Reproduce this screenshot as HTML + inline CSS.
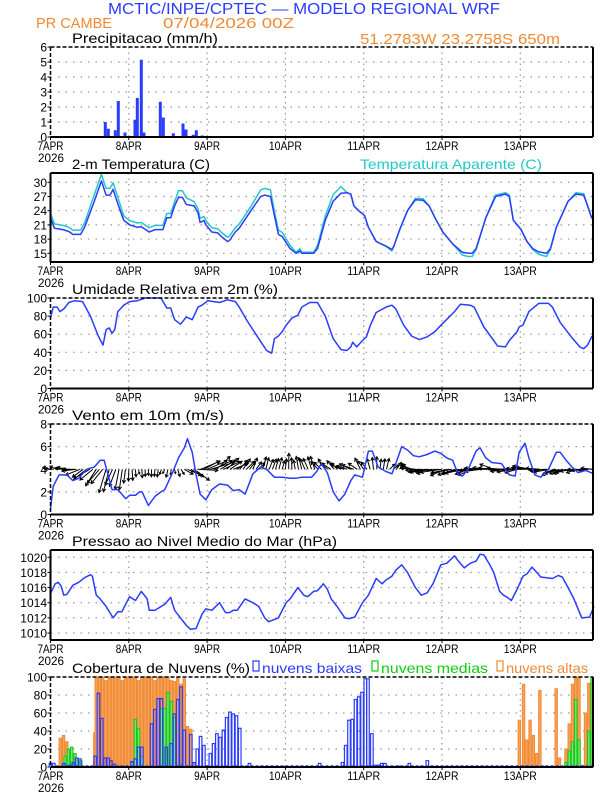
<!DOCTYPE html>
<html><head><meta charset="utf-8"><style>
html,body{margin:0;padding:0;background:#fff;}
svg{display:block;font-family:"Liberation Sans",sans-serif;}
</style></head><body>
<svg id="s" width="612" height="792" xmlns="http://www.w3.org/2000/svg">
<text x="108" y="14" font-size="16" fill="#2a3cff" textLength="392" lengthAdjust="spacingAndGlyphs">MCTIC/INPE/CPTEC — MODELO REGIONAL WRF</text>
<text x="36" y="28" font-size="15" fill="#f08a33" textLength="76" lengthAdjust="spacingAndGlyphs">PR CAMBE</text>
<text x="163" y="28" font-size="15" fill="#f08a33" textLength="131" lengthAdjust="spacingAndGlyphs">07/04/2026 00Z</text>
<text x="360" y="44" font-size="15" fill="#f08a33" textLength="200" lengthAdjust="spacingAndGlyphs">51.2783W 23.2758S 650m</text>
</svg>
<script>
var S=document.getElementById('s'),NS='http://www.w3.org/2000/svg';
function el(t,a,txt){var e=document.createElementNS(NS,t);for(var k in a)e.setAttribute(k,a[k]);if(txt!=null)e.textContent=txt;S.appendChild(e);return e;}
var X0=50.5,X1=593,PH=3.2625;
function X(h){return X0+h*PH;}
var BLUE='#2a3cff';
function panel(top,bot,vmin,vmax,ticks,title,tx,tw,dashedTop){
  var Y=function(v){return bot-(v-vmin)/(vmax-vmin)*(bot-top);};
  for(var d=1;d<7;d++){var x=X(d*24);el('line',{x1:x,x2:x,y1:top,y2:bot,stroke:'#999','stroke-dasharray':'1.5,4','stroke-width':1.2});}
  ticks.forEach(function(v){var y=Y(v);if(y>top+1&&y<bot-1)el('line',{x1:X0,x2:X1,y1:y,y2:y,stroke:'#999','stroke-dasharray':'1.5,6','stroke-width':1.2});
    el('text',{x:47,y:y+4.5,'font-size':12,'text-anchor':'end',fill:'#000'},String(v));
    el('line',{x1:X0-3,x2:X0,y1:y,y2:y,stroke:'#000'});});
  el('text',{x:tx,y:top-4,'font-size':14,fill:'#000',textLength:tw,lengthAdjust:'spacingAndGlyphs'},title);
  var days=['7APR','8APR','9APR','10APR','11APR','12APR','13APR'];
  days.forEach(function(l,i){el('text',{x:X(i*24),y:bot+13,'font-size':12,'text-anchor':'middle',fill:'#000',textLength:l.length==4?26:33,lengthAdjust:'spacingAndGlyphs'},l);
    el('line',{x1:X(i*24),x2:X(i*24),y1:bot,y2:bot+3,stroke:'#000'});});
  el('text',{x:38,y:bot+25,'font-size':12,fill:'#000',textLength:26,lengthAdjust:'spacingAndGlyphs'},'2026');
  return {Y:Y,frame:function(){
    el('line',{x1:X0,x2:X1,y1:bot,y2:bot,stroke:'#000','stroke-width':2});
    el('line',{x1:X1,x2:X1,y1:top,y2:bot,stroke:'#000','stroke-width':2});
    if(dashedTop){el('line',{x1:X0,x2:X1,y1:top,y2:top,stroke:'#000','stroke-width':1.5,'stroke-dasharray':'4,2'});
      el('line',{x1:X0,x2:X0,y1:top,y2:bot,stroke:'#000','stroke-width':1.5,'stroke-dasharray':'4,2'});}
    else{el('line',{x1:X0,x2:X1,y1:top,y2:top,stroke:'#000','stroke-width':2});el('line',{x1:X0,x2:X0,y1:top,y2:bot,stroke:'#000','stroke-width':2});}
  }};
}
function Z(Xz){return (Xz-128)*0.12;}
function line(p,pts,col,w){var d='';pts.forEach(function(q,i){d+=(i?'L':'M')+X(Z(q[0])).toFixed(1)+' '+p.Y(q[1]).toFixed(1);});el('path',{d:d,fill:'none',stroke:col,'stroke-width':w||1.5,'stroke-linejoin':'round'});}
// P1 precip
var p1=panel(47,137,0,6,[0,1,2,3,4,5,6],'Precipitacao (mm/h)',72,146,true);
[[105.3,1],[108.3,.55],[115.3,.45],[118.3,2.4],[125,.3],[135,1.15],[137.3,2.6],[141.3,5.15],[144,.3],[160.3,2.35],[163.3,1.3],[170.3,.05],[173.3,.25],[183,.9],[186,.5],[193.3,.15],[196.3,.45],[202.3,.1]].forEach(function(b){var y=p1.Y(b[1]);el('rect',{x:b[0]-1.5,y:y,width:3,height:137-y,fill:BLUE});});
p1.frame();
// P2 temperature
var p2=panel(173,262,13.16,31.96,[15,18,21,24,27,30],'2-m Temperatura (C)',72,138,false);
el('text',{x:360,y:169,'font-size':14,fill:'#22c8c8',textLength:182,lengthAdjust:'spacingAndGlyphs'},'Temperatura Aparente (C)');
var T=[[128,22.5],[138,20.3],[160,20],[175,19.6],[185,19],[205,19],[215,20.5],[240,26],[258,30.3],[270,27.3],[280,27.3],[288,28.5],[300,25.5],[315,22],[330,21],[350,20.5],[360,20.6],[380,19.5],[395,20],[415,20],[425,22.5],[435,22.5],[445,25],[455,26.8],[465,26.8],[475,25.3],[495,25],[505,23.5],[510,21.5],[520,21.9],[525,21],[540,19.5],[555,19.3],[565,18.5],[580,17.5],[585,17.7],[600,19.5],[610,20.3],[640,24],[665,27],[675,27.3],[690,27],[700,23],[710,19],[720,18.5],[740,16],[755,15],[765,15.5],[770,15],[800,15],[810,16],[830,22],[850,26],[870,27.7],[885,27.8],[895,27.5],[903,25],[915,24],[930,23],[940,20.5],[960,17.5],[985,16.5],[1000,15.8],[1005,16.5],[1020,20],[1040,24],[1060,26.3],[1080,26.2],[1095,25],[1110,22.5],[1130,19.5],[1155,17],[1180,15.2],[1195,15],[1205,15],[1215,16],[1240,22.5],[1265,27],[1290,27.5],[1300,27],[1310,22],[1320,21],[1330,20],[1345,17.5],[1360,16],[1375,15.3],[1395,15],[1405,16],[1420,20.5],[1450,26],[1470,27.5],[1490,27.3],[1500,25],[1510,22.5],[1516,22.3]];
var TA=T.map(function(q){var t=q[1],h=Z(q[0]);var a=t+(h<90?(t>25?1.4:0.9):0)-(t<16.5?(16.5-t)*0.45:0);if(h>100&&t>26)a+=0.3;return [q[0],a];});
line(p2,TA,'#22c8c8',1.5);line(p2,T,BLUE,1.5);
p2.frame();
// P3 RH
var p3=panel(298,388.5,0,100,[0,20,40,60,80,100],'Umidade Relativa em 2m (%)',72,206,true);
line(p3,[[128,78],[135,90],[145,90],[152,85],[162,88],[175,95],[190,97],[210,96],[230,80],[250,58],[262,48],[270,65],[278,67],[285,61],[292,65],[300,85],[315,92],[330,96],[350,97],[370,100],[410,100],[425,89],[435,89],[445,76],[460,71],[475,79],[490,76],[505,90],[515,92],[530,97],[560,95],[580,98],[600,96],[610,90],[630,75],[660,55],[680,42],[693,39],[700,55],[710,58],[720,63],[730,70],[745,78],[760,81],[770,90],[790,95],[810,95],[830,80],[850,55],[870,43],[885,42],[895,46],[900,51],[910,46],[925,53],[935,57],[945,70],[960,84],[985,90],[1000,92],[1010,88],[1030,70],[1050,58],[1070,54],[1090,57],[1110,63],[1130,72],[1160,85],[1175,93],[1200,92],[1210,90],[1235,68],[1260,53],[1270,47],[1290,46],[1300,53],[1320,63],[1325,68],[1335,70],[1350,85],[1375,94],[1400,94],[1410,90],[1430,73],[1460,56],[1480,46],[1490,44],[1500,48],[1510,57],[1516,58]],BLUE,1.5);
p3.frame();
// P4 wind
var p4=panel(424,514.5,0,8,[0,2,4,6,8],'Vento em 10m (m/s)',72,152,true);
var kf=[[0,-7,2],[6,-9,1],[10,-15,-7],[16,-10,-18],[22,-3,-20],[25,1,-8],[30,0,-7],[36,-2,-6],[40,4,-5],[44,18,-9],[46,20,7],[50,18,10],[56,12,8],[62,5,9],[70,3,11],[78,-4,12],[86,-8,7],[92,-12,4],[96,-6,9],[100,0,12],[106,6,5],[110,-8,5],[114,-16,-2],[120,-20,-4],[128,-16,-5],[136,-20,3],[142,-16,-3],[148,-20,3],[154,-12,-5],[160,-16,-3],[166,-12,0]];
function uv(h){for(var i=0;i<kf.length-1;i++){if(h<=kf[i+1][0]){var a=kf[i],b=kf[i+1],f=(h-a[0])/(b[0]-a[0]);return [a[1]+(b[1]-a[1])*f,a[2]+(b[2]-a[2])*f];}}return [kf[kf.length-1][1],kf[kf.length-1][2]];}
var y4=p4.Y(4),ad='';
for(var h=0;h<=166;h++){var w=uv(h),n=Math.sin(h*1.7)*0.2+Math.cos(h*0.9)*0.1;var u=w[0]*(1+n),v=-w[1]*(1-n)+Math.sin(h*2.3)*1.2;
  var x=X(h),x2=x+u,y2=y4+v;ad+='M'+x.toFixed(1)+' '+y4.toFixed(1)+'L'+x2.toFixed(1)+' '+y2.toFixed(1);
  var L=Math.hypot(u,v)||1,ux=u/L,uy=v/L,hs=Math.min(3.5,L*0.4);
  ad+='M'+(x2-hs*(ux*0.87-uy*0.5)).toFixed(1)+' '+(y2-hs*(uy*0.87+ux*0.5)).toFixed(1)+'L'+x2.toFixed(1)+' '+y2.toFixed(1)+'L'+(x2-hs*(ux*0.87+uy*0.5)).toFixed(1)+' '+(y2-hs*(uy*0.87-ux*0.5)).toFixed(1);}
el('path',{d:ad,fill:'none',stroke:'#000','stroke-width':1});
line(p4,[[128,.5],[135,2.5],[150,3.5],[170,3.5],[185,3],[200,3.2],[220,4],[240,4.2],[255,4.8],[265,4.8],[275,3.5],[285,2.2],[300,2.2],[310,1.8],[320,1.4],[330,1.7],[345,1.7],[355,2],[362,2],[378,.8],[395,1.6],[410,2],[420,2.2],[440,3.7],[455,5],[470,5.9],[478,6.7],[490,5.5],[500,3.5],[510,1.8],[525,1.3],[540,2.2],[560,2.7],[580,2.6],[595,2.1],[610,2.2],[625,1.8],[645,3.6],[665,4.2],[680,4],[700,3.3],[720,3.3],[740,3.2],[755,3.2],[770,3.3],[795,3.3],[808,3.8],[820,4.5],[835,3.7],[850,2],[865,1.2],[880,1.8],[895,3],[905,3.5],[925,3.3],[940,5.6],[950,5.6],[965,4.2],[985,3.8],[1000,3.6],[1010,4.5],[1025,6],[1040,5.7],[1055,5.2],[1070,5.1],[1090,5.3],[1110,5.6],[1125,5.4],[1140,5],[1155,4.8],[1170,3.5],[1180,3.4],[1195,4],[1215,5.6],[1225,5.9],[1240,5],[1255,4.6],[1280,4.5],[1300,3.5],[1315,3.4],[1325,5.5],[1340,6.3],[1350,5],[1365,3.5],[1380,3.3],[1400,4],[1420,5.5],[1430,5.5],[1445,4.8],[1460,4.2],[1475,3.7],[1495,3.9],[1516,3.6]],BLUE,1.5);
p4.frame();
// P5 pressure
var p5=panel(550,640,1009.08,1020.96,[1010,1012,1014,1016,1018,1020],'Pressao ao Nivel Medio do Mar (hPa)',72,265,false);
line(p5,[[128,1015.2],[140,1016.5],[148,1016.7],[155,1016.2],[162,1015],[170,1015.1],[185,1016.3],[200,1016.7],[215,1017.3],[230,1017.7],[235,1017.5],[245,1015],[255,1014.5],[270,1013.5],[288,1012],[300,1012.8],[310,1012.8],[330,1014.8],[345,1014.3],[360,1015.5],[375,1014.5],[380,1013],[395,1013],[420,1013.8],[435,1014.7],[445,1013],[460,1012],[475,1011],[485,1010.5],[500,1010.6],[515,1012.5],[525,1013.2],[540,1013],[560,1014],[575,1012.7],[585,1012.7],[595,1013],[605,1013],[625,1014.5],[645,1014],[660,1013.5],[675,1012],[685,1011.5],[710,1012],[730,1014],[740,1014.5],[760,1016],[775,1015],[785,1014.8],[800,1015.5],[810,1015.6],[825,1016.5],[835,1015.8],[845,1014.5],[860,1013.5],[880,1012],[890,1011.9],[905,1012.1],[925,1014],[940,1015],[960,1017.2],[975,1016.5],[985,1017],[1000,1017.5],[1010,1018.3],[1025,1019],[1040,1018],[1060,1016],[1075,1015],[1090,1015.3],[1105,1016.5],[1125,1019],[1140,1019.2],[1160,1020.2],[1170,1019.5],[1185,1018.6],[1200,1019.2],[1215,1019.5],[1225,1020.4],[1235,1020.3],[1250,1019],[1260,1018],[1275,1015.5],[1285,1015],[1295,1014.7],[1305,1014.3],[1320,1015.8],[1335,1017.5],[1345,1017.8],[1358,1018.7],[1370,1018],[1380,1017.4],[1410,1017.2],[1425,1017.6],[1435,1017.4],[1450,1016],[1465,1014.5],[1485,1012],[1505,1012.1],[1516,1013.5]],BLUE,1.5);
p5.frame();
// P6 clouds
var p6=panel(677,767,0,100,[0,20,40,60,80,100],'Cobertura de Nuvens (%)',72,178,true);
function bars(list,fill,stroke){list.forEach(function(b){var y=p6.Y(b[1]);el('rect',{x:X(b[0])-1.2,y:y,width:2.4,height:Math.max(0,767-y),fill:fill,stroke:stroke,'stroke-width':1});});}
var O=[[3,32],[4,35],[5,28],[13.6,38]];
for(var h=14;h<=37;h++)O.push([h,h%5==2?96:100]);
O=O.concat([[38,95],[39,100],[40,92],[41,98],[42,45],[43,42],[44,5],[143.7,52],[145,92],[146,30],[147,52],[148,35],[149,15],[150,85],[151,1],[155,87],[156,10],[158,20],[159,48],[160,92],[161,100],[162,100],[163,2],[164,60],[165,93]]);
bars(O,'#f7a35c','#f08a33');
bars([[4.5,12],[5.5,20],[6.5,22],[7.5,15],[9.3,7],[25,5],[26,53],[27,43],[28,12],[34,65],[35,65],[36,83],[37,73],[38,55],[40,3],[158,5],[159,18],[160,28],[161,75],[162,30],[165,40],[166,100]],'#7fe07f','#11cc11');
var B=[[0,4],[1,4],[4.1,4],[6,2],[7,5],[8,10],[9,9],[13.7,12],[14.7,82],[15.7,54],[16.7,10],[17.7,10],[18.5,7],[19.5,3],[20.5,1],[25,6],[26,9],[27,22],[28,22],[31,48],[32,64],[33,76],[34,76],[35.5,22],[37,26],[38,59],[39,75],[40,89],[41,41],[43,36],[44,5],[45,20],[46,34],[47,24],[49,15],[50,26],[51,37],[52,33],[53,41],[54,55],[55,61],[56,59],[57,57],[58,43],[61,4],[82.5,4],[89.5,5],[90.5,24],[91.5,52],[92.5,53],[93.5,75],[94.5,78],[95.5,83],[96.5,98],[97.3,98],[98.5,37],[99.5,2],[100.5,2],[101.5,4],[102.5,4],[107,1],[110,4],[115.5,7]];
B.forEach(function(b){var y=p6.Y(b[1]);el('rect',{x:X(b[0])-1.3,y:y,width:2.6,height:767-y,fill:'none',stroke:BLUE,'stroke-width':1.2});});
el('line',{x1:X0,x2:X1,y1:766,y2:766,stroke:BLUE,'stroke-width':1.5,'stroke-dasharray':'3,2'});
p6.frame();
// legend
el('rect',{x:253,y:661,width:6,height:10,fill:'none',stroke:BLUE,'stroke-width':1.2});
el('text',{x:262,y:673,'font-size':14,fill:BLUE,textLength:100,lengthAdjust:'spacingAndGlyphs'},'nuvens baixas');
el('rect',{x:372,y:661,width:6,height:10,fill:'none',stroke:'#11cc11','stroke-width':1.2});
el('text',{x:381,y:673,'font-size':14,fill:'#11cc11',textLength:107,lengthAdjust:'spacingAndGlyphs'},'nuvens medias');
el('rect',{x:497,y:661,width:6,height:10,fill:'none',stroke:'#f08a33','stroke-width':1.2});
el('text',{x:506,y:673,'font-size':14,fill:'#f08a33',textLength:82,lengthAdjust:'spacingAndGlyphs'},'nuvens altas');
</script>
</body></html>
